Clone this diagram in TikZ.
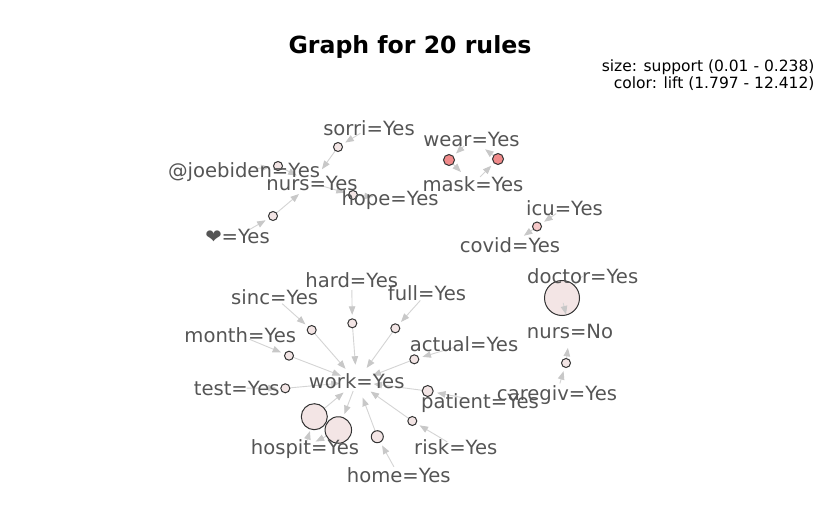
\documentclass[tikz,border=0pt]{standalone}
\usepackage{fontspec}
\setmainfont{DejaVu Sans}
\usetikzlibrary{arrows.meta,backgrounds}
\definecolor{labelgray}{HTML}{555555}
\definecolor{edgegray}{HTML}{D4D4D4}
\definecolor{tipgray}{HTML}{C8C8C8}
\definecolor{palefill}{HTML}{F3E5E5}
\definecolor{redfill}{HTML}{F08A8A}
\definecolor{pinkfill}{HTML}{F6C8C8}
\definecolor{ringcol}{HTML}{333333}
\begin{document}
\begin{tikzpicture}[x=1pt,y=-1pt,
  lbl/.style={text=labelgray,font=\fontsize{19.6}{20}\selectfont,inner sep=0pt,text height=14.2pt,text depth=0pt},
  rulenode/.style={circle,draw=ringcol,line width=1pt,fill=palefill,inner sep=0pt,minimum size=#1},
  conn/.style={draw=edgegray,line width=0.9pt,-{Triangle[length=8.5pt,width=6.5pt,color=tipgray,fill=tipgray]}},
  inrule/.style={conn,shorten <=10pt,shorten >=#1},
  outrule/.style={conn,shorten >=#1},
  inrule/.default=8.5pt,
  outrule/.default=17pt
]
\useasboundingbox (0,0) rectangle (819,506);

% title and legend
\node[font=\fontsize{23.6}{24}\selectfont\bfseries,anchor=base] (title) at (410,53.3) {Graph for 20 rules};
\node[font=\fontsize{15.5}{16}\selectfont,anchor=base east] (leg1) at (818,71) {size: support (0.01 - 0.238)};
\node[font=\fontsize{15.5}{16}\selectfont,anchor=base east] (leg2) at (818,88.5) {color: lift (1.797 - 12.412)};

% rule circles
\node[rulenode=9pt] (Rsorri) at (338,147) {};
\node[rulenode=9pt] (Rjoe) at (278,166) {};
\node[rulenode=9pt] (Rhope) at (353,195) {};
\node[rulenode=9pt] (Rheart) at (273,216) {};
\node[rulenode=11pt,fill=redfill] (Rw1) at (449,160) {};
\node[rulenode=11pt,fill=redfill] (Rw2) at (498,159) {};
\node[rulenode=9pt,fill=pinkfill] (Ricu) at (537,226.5) {};
\node[rulenode=35pt] (Rdoc) at (562,298) {};
\node[rulenode=9pt] (Rcare) at (566,363) {};
\node[rulenode=9pt] (Rsinc) at (311.7,330) {};
\node[rulenode=9pt] (Rhard) at (352.3,323.3) {};
\node[rulenode=9pt] (Rfull) at (395.3,328.3) {};
\node[rulenode=9pt] (Rmonth) at (289,355.7) {};
\node[rulenode=9pt] (Ractual) at (414.3,359.3) {};
\node[rulenode=9pt] (Rtest) at (285.3,388.3) {};
\node[rulenode=11pt] (Rpatient) at (427.7,391) {};
\node[rulenode=9pt] (Rrisk) at (412.3,421) {};
\node[rulenode=26pt] (Rh1) at (314.3,416.7) {};
\node[rulenode=26.5pt] (Rh2) at (338.3,430) {};
\node[rulenode=12pt] (Rhome) at (377.3,436.7) {};

% item labels
\node[lbl] (sorri) at (369,128) {sorri=Yes};
\node[lbl] (wear) at (471.5,139) {wear=Yes};
\node[lbl] (joebiden) at (244,170) {@joebiden=Yes};
\node[lbl] (nurs) at (312,183) {nurs=Yes};
\node[lbl] (mask) at (473,184) {mask=Yes};
\node[lbl] (hope) at (390,198) {hope=Yes};
\node[lbl] (icu) at (564.5,208) {icu=Yes};
\node[lbl] (heart) at (237.5,236.5) {❤=Yes};
\node[lbl] (covid) at (510,245.5) {covid=Yes};
\node[lbl] (doctor) at (582.7,276) {doctor=Yes};
\node[lbl] (nursno) at (570,331) {nurs=No};
\node[lbl] (caregiv) at (557,393) {caregiv=Yes};
\node[lbl] (hard) at (351.7,280) {hard=Yes};
\node[lbl] (sinc) at (274.7,297) {sinc=Yes};
\node[lbl] (full) at (427,293) {full=Yes};
\node[lbl] (month) at (240.3,335.5) {month=Yes};
\node[lbl] (actual) at (464,344.5) {actual=Yes};
\node[lbl] (work) at (356.7,381.7) {work=Yes};
\node[lbl] (test) at (236.7,388) {test=Yes};
\node[lbl] (patient) at (480,401) {patient=Yes};
\node[lbl] (hospit) at (305,447) {hospit=Yes};
\node[lbl] (risk) at (455.8,447) {risk=Yes};
\node[lbl] (home) at (398.7,475.5) {home=Yes};

% connectors, behind everything
\begin{pgfonlayer}{background}
\fill[white] (0,0) rectangle (819,506);
% top-left cluster
\draw[inrule] (sorri.center) -- (Rsorri.center);
\draw[outrule] (Rsorri.center) -- (nurs.center);
\draw[inrule] (joebiden.center) -- (Rjoe.center);
\draw[outrule] (Rjoe.center) -- (nurs.center);
\draw[inrule] (nurs.center) -- (Rhope.center);
\draw[outrule] (Rhope.center) -- (hope.center);
\draw[inrule] (heart.center) -- (Rheart.center);
\draw[outrule] (Rheart.center) -- (nurs.center);
% wear / mask
\draw[inrule=9.5pt] (wear.center) -- (Rw1.center);
\draw[outrule] (Rw1.center) -- (mask.center);
\draw[inrule=9.5pt] (mask.center) -- (Rw2.center);
\draw[outrule] (Rw2.center) -- (wear.center);
% icu / covid
\draw[inrule] (icu.center) -- (Ricu.center);
\draw[outrule] (Ricu.center) -- (covid.center);
% doctor / caregiv -> nurs=No
\draw[draw=edgegray,line width=0.9pt] (doctor.center) -- (Rdoc.center);
\draw[inrule] (caregiv.center) -- (Rcare.center);
\draw[outrule] (Rcare.center) -- (nursno.center);
% work cluster
\draw[inrule] (hard.center) -- (Rhard.center);
\draw[outrule] (Rhard.center) -- (work.center);
\draw[inrule] (sinc.center) -- (Rsinc.center);
\draw[outrule] (Rsinc.center) -- (work.center);
\draw[inrule] (full.center) -- (Rfull.center);
\draw[outrule] (Rfull.center) -- (work.center);
\draw[inrule] (month.center) -- (Rmonth.center);
\draw[outrule] (Rmonth.center) -- (work.center);
\draw[inrule] (actual.center) -- (Ractual.center);
\draw[outrule] (Ractual.center) -- (work.center);
\draw[inrule] (test.center) -- (Rtest.center);
\draw[outrule] (Rtest.center) -- (work.center);
\draw[inrule=9.5pt] (patient.center) -- (Rpatient.center);
\draw[outrule] (Rpatient.center) -- (work.center);
\draw[inrule] (risk.center) -- (Rrisk.center);
\draw[outrule] (Rrisk.center) -- (work.center);
\draw[inrule=10pt] (home.center) -- (Rhome.center);
\draw[outrule] (Rhome.center) -- (work.center);
\draw[conn,shorten <=4pt,shorten >=15pt] (hospit.center) -- (Rh1.center);
\draw[outrule] (Rh1.center) -- (work.center);
\draw[inrule=17pt] (work.center) -- (Rh2.center);
\draw[outrule=12pt] (Rh2.center) -- (hospit.center);
\end{pgfonlayer}

% arrowhead seen through the large doctor circle
\draw[conn,shorten <=5pt,shorten >=17pt] (Rdoc.center) -- (nursno.center);
\end{tikzpicture}
\end{document}
